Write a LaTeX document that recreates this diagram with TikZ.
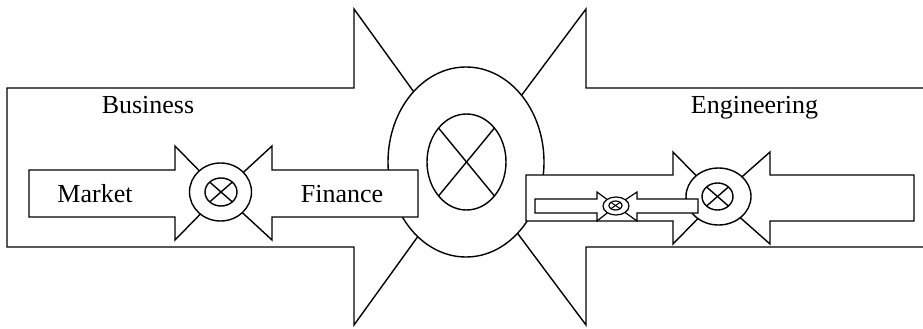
\documentclass[tikz,border=0pt]{standalone}
\usepackage{fontspec}
\setmainfont{Liberation Serif}
\usetikzlibrary{shapes.geometric}
\tikzset{
  blk/.style={draw=black, fill=white, line width=1.4pt, line join=miter},
  ring/.style={ellipse, draw=black, fill=white, line width=1.4pt, inner sep=0pt, outer sep=0pt},
  crs/.style={draw=black, line width=1.4pt},
  lbl/.style={font=\fontsize{26}{30}\selectfont, anchor=base, inner sep=0pt},
}
\newcommand{\xring}[5]{% name, x, y, rx, ry
  \node[ring, minimum width=#4*2pt, minimum height=#5*2pt] (#1) at (#2,#3) {};
  \draw[crs] (#1.north west) -- (#1.south east);
  \draw[crs] (#1.north east) -- (#1.south west);
}
\begin{document}
\begin{tikzpicture}[x=1pt,y=-1pt]
\useasboundingbox (0,0) rectangle (923,329);
\clip (0,0) rectangle (923,329);
% big arrows
\draw[blk] (7,88) -- (354,88) -- (354,9) -- (468,167) -- (354,325) -- (354,247) -- (7,247) -- cycle;
\draw[blk] (935,88) -- (586,88) -- (586,9) -- (468,167) -- (586,325) -- (586,247) -- (935,247) -- cycle;
% hub
\node[ring, minimum width=156pt, minimum height=190pt] (hub) at (466,162) {};
\xring{hubin}{466.5}{162}{39.5}{48}
% Business inner arrows
\draw[blk] (29,170) -- (175,170) -- (175,146) -- (221,193) -- (175,240) -- (175,217) -- (29,217) -- cycle;
\draw[blk] (418,170) -- (272,170) -- (272,146) -- (221,193) -- (272,240) -- (272,217) -- (418,217) -- cycle;
\node[ring, minimum width=62pt, minimum height=58pt] (bring) at (220.5,192) {};
\xring{bringin}{221}{192}{16}{14}
% Engineering inner arrows
\draw[blk] (914,175) -- (770,175) -- (770,152) -- (718,198) -- (770,244) -- (770,221) -- (914,221) -- cycle;
\draw[blk] (526,175) -- (673,175) -- (673,152) -- (718,198) -- (673,244) -- (673,221) -- (526,221) -- cycle;
\node[ring, minimum width=65pt, minimum height=57pt] (ering) at (718.5,196.5) {};
\xring{eringin}{717.5}{196.5}{15.5}{13.5}
% tiny arrows
\draw[blk, line width=1.2pt] (535,199) -- (597,199) -- (597,192) -- (616,206) -- (597,221) -- (597,213) -- (535,213) -- cycle;
\draw[blk, line width=1.2pt] (698,199) -- (637,199) -- (637,192) -- (616,206) -- (637,221) -- (637,213) -- (698,213) -- cycle;
\node[ring, line width=1.2pt, minimum width=26pt, minimum height=18pt] (tring) at (616,206) {};
\node[ring, line width=1.2pt, minimum width=13pt, minimum height=9pt] (tringin) at (615.5,205.5) {};
\draw[crs, line width=1pt] (tringin.north west) -- (tringin.south east);
\draw[crs, line width=1pt] (tringin.north east) -- (tringin.south west);
% labels
\node[lbl] (business) at (148,113) {Business};
\node[lbl] (market) at (95,202) {Market};
\node[lbl] (finance) at (342,202) {Finance};
\node[lbl] (engineering) at (754.5,113) {Engineering};
\end{tikzpicture}
\end{document}
